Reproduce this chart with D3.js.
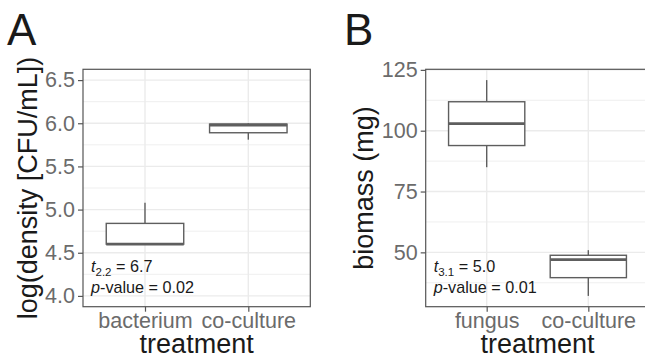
<!DOCTYPE html>
<html>
<head>
<meta charset="utf-8">
<script src="https://cdn.jsdelivr.net/npm/d3@7"></script>
<style>
  body { margin: 0; background: #fff; }
  svg { display: block; font-family: "Liberation Sans", Arial, sans-serif; }
</style>
</head>
<body>
<div id="chart"></div>
<script>
// panel A: bacterial density
const groupsA = ["bacterium", "co-culture"];
const minA = [4.60, 5.81];
const q1A = [4.60, 5.89];
const medA = [4.60, 5.98];
const q3A = [4.84, 5.99];
const maxA = [5.08, 6.00];
const ticksA = [4.0, 4.5, 5.0, 5.5, 6.0, 6.5];

// panel B: fungal biomass
const groupsB = ["fungus", "co-culture"];
const minB = [85.0, 32.1];
const q1B = [93.9, 39.6];
const medB = [102.9, 47.0];
const q3B = [111.9, 48.8];
const maxB = [120.8, 50.9];
const ticksB = [50, 75, 100, 125];

const W = 645, H = 360;
const svg = d3.select("#chart").append("svg")
    .attr("width", W)
    .attr("height", H);

function panel(opts) {
    let {left, right, top, bottom, groups, mins, q1s, meds, q3s, maxs,
         domain, ticks, fmt, ytitle, ytitleX, letter, letterX, stat, df} = opts;

    let y = d3.scaleLinear().domain(domain).range([bottom, top]);
    let x = d3.scalePoint().domain(groups).range([left, right]).padding(0.6);
    let step = x.step();

    let g = svg.append("g");

    // minor grid
    let minor = ticks.slice(0, -1).map((t, i) => (t + ticks[i + 1]) / 2);
    if (y(ticks[0] - (ticks[1] - ticks[0]) / 2) < bottom) minor.unshift(ticks[0] - (ticks[1] - ticks[0]) / 2);
    g.selectAll(".minor").data(minor).join("line")
        .attr("x1", left).attr("x2", right)
        .attr("y1", d => y(d)).attr("y2", d => y(d))
        .attr("stroke", "#ebebeb").attr("stroke-width", 0.8);
    // major grid
    g.selectAll(".majory").data(ticks).join("line")
        .attr("x1", left).attr("x2", right)
        .attr("y1", d => y(d)).attr("y2", d => y(d))
        .attr("stroke", "#ebebeb").attr("stroke-width", 1.4);
    g.selectAll(".majorx").data(groups).join("line")
        .attr("x1", d => x(d)).attr("x2", d => x(d))
        .attr("y1", top).attr("y2", bottom)
        .attr("stroke", "#ebebeb").attr("stroke-width", 1.4);

    // boxes
    let bw = step * 0.75;
    let col = "#5e5e5e";
    groups.forEach((grp, i) => {
        let cx = x(grp);
        g.append("line")
            .attr("x1", cx).attr("x2", cx)
            .attr("y1", y(q3s[i])).attr("y2", y(maxs[i]))
            .attr("stroke", col).attr("stroke-width", 1.4);
        g.append("line")
            .attr("x1", cx).attr("x2", cx)
            .attr("y1", y(q1s[i])).attr("y2", y(mins[i]))
            .attr("stroke", col).attr("stroke-width", 1.4);
        g.append("rect")
            .attr("x", cx - bw / 2).attr("width", bw)
            .attr("y", y(q3s[i])).attr("height", y(q1s[i]) - y(q3s[i]))
            .attr("fill", "#fff").attr("stroke", col).attr("stroke-width", 1.4);
        g.append("line")
            .attr("x1", cx - bw / 2).attr("x2", cx + bw / 2)
            .attr("y1", y(meds[i])).attr("y2", y(meds[i]))
            .attr("stroke", col).attr("stroke-width", 2.8);
    });

    // annotation
    let ann = g.append("text")
        .attr("x", left + 8).attr("y", bottom - 35)
        .attr("font-size", 16.2).attr("fill", "#1a1a1a");
    ann.append("tspan").attr("font-style", "italic").text("t");
    ann.append("tspan").attr("font-size", 11.5).attr("dy", 4).text(df);
    ann.append("tspan").attr("dy", -4).text(" = " + stat[0]);
    let ann2 = g.append("text")
        .attr("x", left + 8).attr("y", bottom - 14)
        .attr("font-size", 16.2).attr("fill", "#1a1a1a");
    ann2.append("tspan").attr("font-style", "italic").text("p");
    ann2.append("tspan").text("-value = " + stat[1]);

    // panel border
    g.append("rect")
        .attr("x", left).attr("y", top)
        .attr("width", right - left).attr("height", bottom - top)
        .attr("fill", "none").attr("stroke", "#555").attr("stroke-width", 1.2);

    // y axis
    let ya = g.append("g")
        .attr("transform", `translate(${left},0)`)
        .call(d3.axisLeft(y).tickValues(ticks).tickFormat(fmt).tickSize(5).tickPadding(3));
    ya.select(".domain").remove();
    ya.selectAll(".tick line").attr("stroke", "#555").attr("stroke-width", 1.2);
    ya.selectAll(".tick text")
        .attr("font-size", 21.5).attr("fill", "#6b6b6b")
        .attr("font-family", "'Liberation Sans', Arial, sans-serif");

    // x axis
    let xa = g.append("g")
        .attr("transform", `translate(0,${bottom})`)
        .call(d3.axisBottom(x).tickSize(5).tickPadding(1));
    xa.select(".domain").remove();
    xa.selectAll(".tick line").attr("stroke", "#555").attr("stroke-width", 1.2);
    xa.selectAll(".tick text")
        .attr("font-size", 21.5).attr("fill", "#6b6b6b")
        .attr("font-family", "'Liberation Sans', Arial, sans-serif");

    // titles
    g.append("text")
        .attr("x", (left + right) / 2)
        .attr("y", 352.5)
        .attr("text-anchor", "middle")
        .attr("font-size", 27).attr("fill", "#1a1a1a")
        .text("treatment");
    g.append("text")
        .attr("transform", `translate(${ytitleX},${(top + bottom) / 2}) rotate(-90)`)
        .attr("text-anchor", "middle")
        .attr("font-size", 27).attr("fill", "#1a1a1a")
        .text(ytitle);
    g.append("text")
        .attr("x", letterX).attr("y", 45)
        .attr("font-size", 44).attr("fill", "#1a1a1a")
        .text(letter);
}

panel({
    left: 83, right: 310.3, top: 69.3, bottom: 306.7,
    groups: groupsA, mins: minA, q1s: q1A, meds: medA, q3s: q3A, maxs: maxA,
    domain: [3.875, 6.625], ticks: ticksA, fmt: d3.format(".1f"),
    ytitle: "log(density [CFU/mL])", ytitleX: 37,
    letter: "A", letterX: 7, stat: ["6.7", "0.02"], df: "2.2"
});

// panel B limits: data range plus 5% on each side
let lo = d3.min(minB), hi = d3.max(maxB), pad = (hi - lo) * 0.05;
panel({
    left: 425.7, right: 649.3, top: 69.3, bottom: 306.7,
    groups: groupsB, mins: minB, q1s: q1B, meds: medB, q3s: q3B, maxs: maxB,
    domain: [lo - pad, hi + pad], ticks: ticksB, fmt: d3.format("d"),
    ytitle: "biomass (mg)", ytitleX: 373,
    letter: "B", letterX: 344, stat: ["5.0", "0.01"], df: "3.1"
});
</script>
</body>
</html>
